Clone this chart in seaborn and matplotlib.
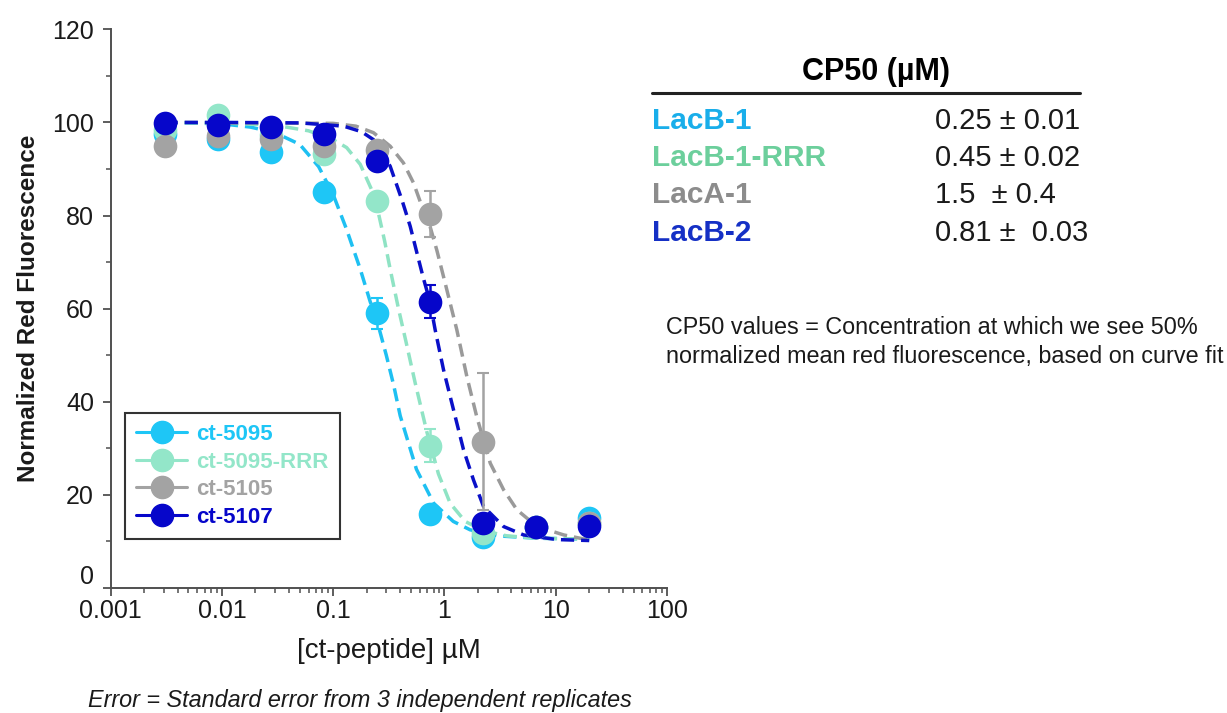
import matplotlib
matplotlib.use("Agg")
import matplotlib.pyplot as plt
import matplotlib.ticker as mticker
import matplotlib.transforms as mtransforms
from matplotlib.lines import Line2D
import seaborn as sns

# concentrations (uM), 3-fold dilution series
conc = [0.00305, 0.00914, 0.0274, 0.0823, 0.247, 0.741, 2.22, 6.67, 20.0]

# mean normalized red fluorescence and standard error per peptide
ct5095 = [97.5, 96.5, 93.6, 85.0, 59.0, 16.0, 11.0, 13.0, 15.0]
err5095 = [1.0, 1.0, 1.2, 1.0, 3.3, 1.0, 0.8, 0.5, 1.0]
ct5095_rrr = [98.3, 101.5, 97.3, 93.2, 83.2, 30.6, 11.8, 13.0, 14.0]
err5095_rrr = [0.8, 1.0, 1.0, 1.0, 1.2, 3.5, 0.8, 0.5, 0.8]
ct5105 = [95.0, 97.0, 96.4, 95.0, 94.0, 80.3, 31.4, 13.0, 14.0]
err5105 = [0.8, 1.0, 1.0, 1.0, 1.0, 5.0, 14.7, 0.8, 0.8]
ct5107 = [99.8, 99.4, 99.1, 97.5, 91.7, 61.5, 13.9, 13.1, 13.4]
err5107 = [0.5, 0.5, 0.5, 0.8, 1.5, 3.5, 1.0, 0.5, 0.5]

# fitted curves
fit5095_x = [0.00305, 0.01, 0.018, 0.03, 0.05, 0.074, 0.1, 0.132, 0.175, 0.215, 0.247,
             0.3, 0.35, 0.4, 0.56, 0.8, 1.2, 1.7, 3.0, 6.7, 20.0]
fit5095_y = [100, 99.7, 99.0, 97.8, 95.3, 90.5, 84.5, 77.0, 68.5, 61.5, 57.5,
             50.0, 43.5, 37.0, 25.5, 18.2, 14.3, 12.5, 11.2, 10.7, 10.5]
fit5095_rrr_x = [0.00305, 0.01, 0.03, 0.06, 0.1, 0.132, 0.175, 0.222, 0.255, 0.29, 0.325,
                 0.386, 0.45, 0.546, 0.695, 0.883, 1.125, 1.535, 2.24, 3.64, 6.7, 20.0]
fit5095_rrr_y = [100, 99.9, 99.4, 98.2, 96.3, 94.6, 91.0, 85.5, 80.5, 74.5, 68.5,
                 60.0, 53.0, 44.0, 33.5, 24.5, 18.2, 14.3, 12.3, 11.2, 10.7, 10.5]
fit5105_x = [0.00305, 0.1, 0.16, 0.23, 0.325, 0.428, 0.527, 0.605, 0.745, 0.855, 1.014,
             1.29, 1.59, 1.95, 2.58, 3.4, 4.48, 6.78, 11.8, 20.0]
fit5105_y = [100, 99.8, 99.2, 97.8, 94.9, 91.3, 87.0, 83.0, 77.5, 72.5, 65.5,
             55.5, 45.4, 36.8, 26.8, 21.1, 16.8, 13.2, 11.4, 10.3]
fit5107_x = [0.00305, 0.01, 0.05, 0.124, 0.18, 0.23, 0.325, 0.414, 0.492, 0.565, 0.647,
             0.741, 0.824, 0.98, 1.205, 1.483, 1.824, 2.244, 3.4, 5.14, 10.3, 20.0]
fit5107_y = [100, 100, 99.9, 99.2, 98.0, 96.3, 90.6, 83.4, 77.7, 72.0, 66.5,
             61.5, 55.5, 46.9, 38.3, 29.7, 23.2, 17.5, 13.2, 11.4, 10.4, 10.2]

labels = ["ct-5095", "ct-5095-RRR", "ct-5105", "ct-5107"]
marker_colors = ["#1EC6F6", "#93E6C9", "#A3A3A3", "#0606CA"]
line_colors = ["#1EC0F2", "#8FE3C4", "#9A9A9A", "#0A10C8"]

# CP50 table
cp50_names = ["LacB-1", "LacB-1-RRR", "LacA-1", "LacB-2"]
cp50_values = ["0.25 \u00b1 0.01", "0.45 \u00b1 0.02", "1.5  \u00b1 0.4", "0.81 \u00b1  0.03"]
cp50_colors = ["#19AEEA", "#6CCF9C", "#8C8C8C", "#1530C5"]

sns.set_theme(style="ticks")
plt.rcParams['font.family'] = ['Liberation Sans', 'DejaVu Sans']

fig = plt.figure(figsize=(12.27, 7.13), dpi=100)
ax = fig.add_axes([0.0902, 0.1753, 0.4534, 0.7836])

series = [
    (ct5095, err5095, fit5095_x, fit5095_y),
    (ct5095_rrr, err5095_rrr, fit5095_rrr_x, fit5095_rrr_y),
    (ct5105, err5105, fit5105_x, fit5105_y),
    (ct5107, err5107, fit5107_x, fit5107_y),
]

# dashed fit curves first, then error bars and points on top
for i, (vals, err, fx, fy) in enumerate(series):
    sns.lineplot(x=fx, y=fy, color=line_colors[i], lw=2.5, linestyle=(0, (3.8, 2)),
                 estimator=None, sort=False, ax=ax, zorder=2)

for i, (vals, err, fx, fy) in enumerate(series):
    ax.errorbar(conc, vals, yerr=err, fmt='none', ecolor=marker_colors[i],
                elinewidth=1.8, capsize=4, capthick=1.5, zorder=3 + 2 * i)
    sns.scatterplot(x=conc, y=vals, color=marker_colors[i], s=290, linewidth=0,
                    ax=ax, zorder=4 + 2 * i)

ax.set_xscale('log')
ax.set_xlim(0.001, 100)
ax.set_ylim(0, 120)
ax.xaxis.set_major_locator(mticker.LogLocator(base=10))
ax.xaxis.set_minor_locator(mticker.LogLocator(base=10, subs=range(2, 10)))
ax.xaxis.set_major_formatter(mticker.FuncFormatter(lambda v, _: f"{v:g}"))
ax.xaxis.set_minor_formatter(mticker.NullFormatter())
ax.yaxis.set_major_locator(mticker.MultipleLocator(20))
ax.yaxis.set_minor_locator(mticker.MultipleLocator(10))
# the "0" is drawn separately below so it sits just above the x axis
ax.yaxis.set_major_formatter(mticker.FuncFormatter(lambda v, _: "" if v == 0 else f"{v:g}"))

sns.despine(ax=ax)
for side in ['left', 'bottom']:
    ax.spines[side].set_linewidth(1.4)
    ax.spines[side].set_color('#505050')

ax.tick_params(axis='both', which='major', direction='out', length=6, width=1.3,
               color='#505050', labelsize=18, labelcolor='#1a1a1a')
ax.tick_params(axis='both', which='minor', direction='out', length=3.5, width=1.1,
               color='#505050')
ax.tick_params(axis='x', which='major', pad=2)
ax.tick_params(axis='y', which='major', pad=6)

zero_tr = mtransforms.offset_copy(ax.get_yaxis_transform(), fig=fig, x=-12, y=-1,
                                  units='points')
ax.text(0, 0, '0', transform=zero_tr, ha='right', va='bottom', fontsize=18,
        color='#1a1a1a')

ax.set_xlabel('[ct-peptide] \u00b5M', fontsize=20, labelpad=11, color='#1a1a1a')
ax.set_ylabel('Normalized Red Fluorescence', fontsize=17.5, fontweight='bold',
              labelpad=9, color='#1a1a1a')

handles = [Line2D([0], [0], color=c, marker='o', markersize=16, lw=2.2)
           for c in marker_colors]
leg = ax.legend(handles, labels, loc='lower left', bbox_to_anchor=(0.0257, 0.0878),
                borderaxespad=0, frameon=True, fancybox=False, edgecolor='black',
                prop={'weight': 'bold', 'size': 16}, handlelength=2.3,
                handletextpad=0.4, labelspacing=0.3, borderpad=0.5)
leg.get_frame().set_linewidth(1.5)
for txt, c in zip(leg.get_texts(), marker_colors):
    txt.set_color(c)

# CP50 table on the right
fig.text(0.714, 0.899, 'CP50 (\u00b5M)', ha='center', va='center',
         fontsize=22, fontweight='bold', color='black')
fig.add_artist(Line2D([0.531, 0.880], [0.869, 0.869], transform=fig.transFigure,
                      color='#222222', lw=2.2))
row_y = [0.830, 0.778, 0.7265, 0.673]
for name, val, c, y in zip(cp50_names, cp50_values, cp50_colors, row_y):
    fig.text(0.5314, y, name, ha='left', va='center', fontsize=21.5,
             fontweight='bold', color=c)
    fig.text(0.762, y, val, ha='left', va='center', fontsize=21, color='#1a1a1a')

fig.text(0.5428, 0.540, 'CP50 values = Concentration at which we see 50%',
         ha='left', va='center', fontsize=16.8, color='#1a1a1a')
fig.text(0.5428, 0.4993, 'normalized mean red fluorescence, based on curve fit',
         ha='left', va='center', fontsize=16.8, color='#1a1a1a')

fig.text(0.0717, 0.018, 'Error = Standard error from 3 independent replicates',
         ha='left', va='center', fontsize=16.8, fontstyle='italic', color='#1a1a1a')

fig.savefig('out.png', dpi=100)
